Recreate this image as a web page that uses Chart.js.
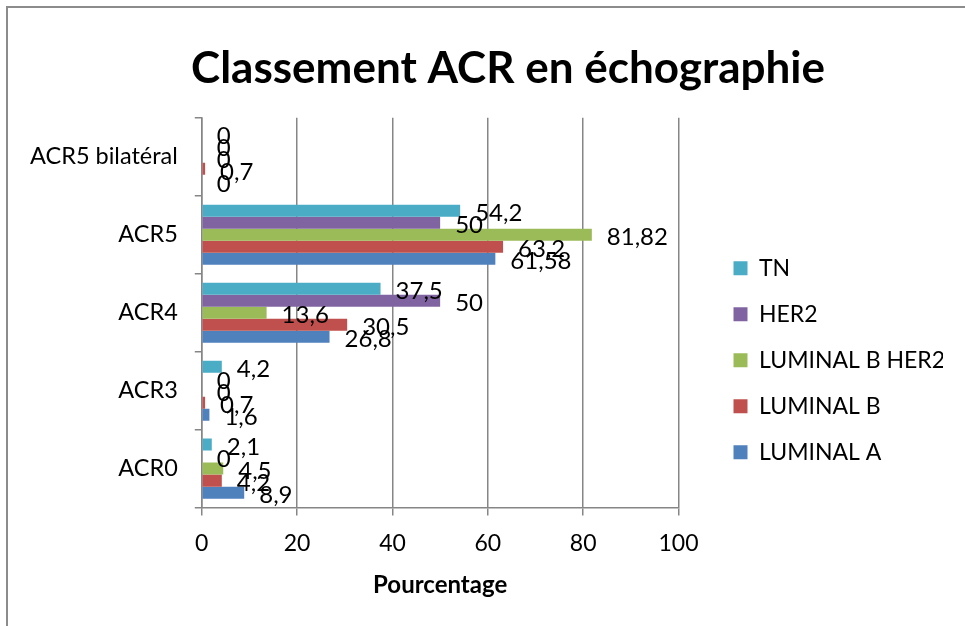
<!DOCTYPE html>
<html>
<head>
<meta charset="utf-8">
<script src="https://cdn.jsdelivr.net/npm/chart.js@4/dist/chart.umd.min.js"></script>
<style>
    html, body { margin: 0; padding: 0; background: #fff; }
    #wrap { position: relative; width: 965px; height: 626px; overflow: hidden; }
    #frame { position: absolute; left: 6px; top: 6px; width: 1000px; height: 700px; border: 2px solid #8c8c8c; box-sizing: border-box; }
    #chart { position: absolute; left: 0; top: 0; }
</style>
</head>
<body>
<div id="wrap">
    <div id="frame"></div>
    <canvas id="chart" width="965" height="626"></canvas>
</div>
<script>
// catégories (de bas en haut)
const categories = ['ACR0', 'ACR3', 'ACR4', 'ACR5', 'ACR5 bilatéral'];
const xTicks = [0, 20, 40, 60, 80, 100];

// séries (%)
const luminalA = [8.9, 1.6, 26.8, 61.58, 0];
const luminalB = [4.2, 0.7, 30.5, 63.2, 0.7];
const luminalBHer2 = [4.5, 0, 13.6, 81.82, 0];
const her2 = [0, 0, 50, 50, 0];
const tn = [2.1, 4.2, 37.5, 54.2, 0];

const fontFamily = 'Lato, "Open Sans", sans-serif';
const gridColor = '#868686';
const legendGap = 32;   // espace entre la zone de tracé et la légende
const titleShift = 30;  // le titre est un peu décalé vers la droite

// étiquettes de données + petits réglages de mise en page
const valueLabels = {
    id: 'valueLabels',
    beforeLayout(chart) {
        const lg = chart.legend;
        if (lg && !lg._wrapped) {
            const fit = lg.fit;
            lg.fit = function() { fit.call(this); this.width += legendGap; };
            lg._wrapped = true;
        }
    },
    afterLayout(chart) {
        if (chart.legend) chart.legend.left += legendGap;
        if (chart.titleBlock) {
            chart.titleBlock.left += titleShift;
            chart.titleBlock.right += titleShift;
        }
    },
    afterDatasetsDraw(chart) {
        const ctx = chart.ctx;
        ctx.save();
        ctx.font = '24px ' + fontFamily;
        ctx.fillStyle = '#000';
        ctx.textAlign = 'left';
        ctx.textBaseline = 'middle';
        chart.data.datasets.forEach((ds, i) => {
            const meta = chart.getDatasetMeta(i);
            meta.data.forEach((bar, j) => {
                const txt = String(ds.data[j]).replace('.', ',');
                ctx.fillText(txt, bar.x + 15, bar.y + 3);
            });
        });
        ctx.restore();
    }
};

const ctx = document.getElementById('chart').getContext('2d');
new Chart(ctx, {
    type: 'bar',
    data: {
        labels: categories,
        datasets: [
            { label: 'TN', data: tn, backgroundColor: '#4BACC6' },
            { label: 'HER2', data: her2, backgroundColor: '#8064A2' },
            { label: 'LUMINAL B HER2', data: luminalBHer2, backgroundColor: '#9BBB59' },
            { label: 'LUMINAL B', data: luminalB, backgroundColor: '#C0504D' },
            { label: 'LUMINAL A', data: luminalA, backgroundColor: '#4F81BD' }
        ]
    },
    options: {
        indexAxis: 'y',
        responsive: false,
        animation: false,
        datasets: {
            bar: { categoryPercentage: 0.77, barPercentage: 1.0, borderWidth: 0 }
        },
        layout: { padding: { left: 13, right: 22, top: 8, bottom: 8 } },
        scales: {
            x: {
                min: 0,
                max: 100,
                afterBuildTicks(scale) { scale.ticks = xTicks.map(v => ({ value: v })); },
                grid: { color: gridColor, lineWidth: 1.5, tickLength: 8, drawTicks: true },
                border: { color: gridColor, width: 1.5 },
                ticks: { color: '#000', font: { family: fontFamily, size: 23 }, padding: 14 },
                title: {
                    display: true,
                    text: 'Pourcentage',
                    color: '#000',
                    font: { family: fontFamily, size: 24, weight: 'bold' },
                    padding: { top: 0, bottom: 18 }
                }
            },
            y: {
                reverse: true,
                offset: true,
                grid: { display: true, drawOnChartArea: false, drawTicks: true, tickLength: 7, offset: true, color: gridColor, lineWidth: 1.5 },
                border: { color: gridColor, width: 1.5 },
                ticks: { color: '#000', font: { family: fontFamily, size: 23.5 }, padding: 17 }
            }
        },
        plugins: {
            title: {
                display: true,
                text: 'Classement ACR en échographie',
                color: '#000',
                font: { family: fontFamily, size: 44, weight: 'bold' },
                padding: { top: 34, bottom: 23 }
            },
            legend: {
                position: 'right',
                title: { display: true, text: ' ', font: { size: 12 }, padding: { top: 40, bottom: 40 } },
                labels: {
                    color: '#000',
                    font: { family: fontFamily, size: 23 },
                    boxWidth: 14,
                    boxHeight: 14,
                    padding: 23
                }
            },
            tooltip: { enabled: false }
        }
    },
    plugins: [valueLabels]
});
</script>
</body>
</html>
